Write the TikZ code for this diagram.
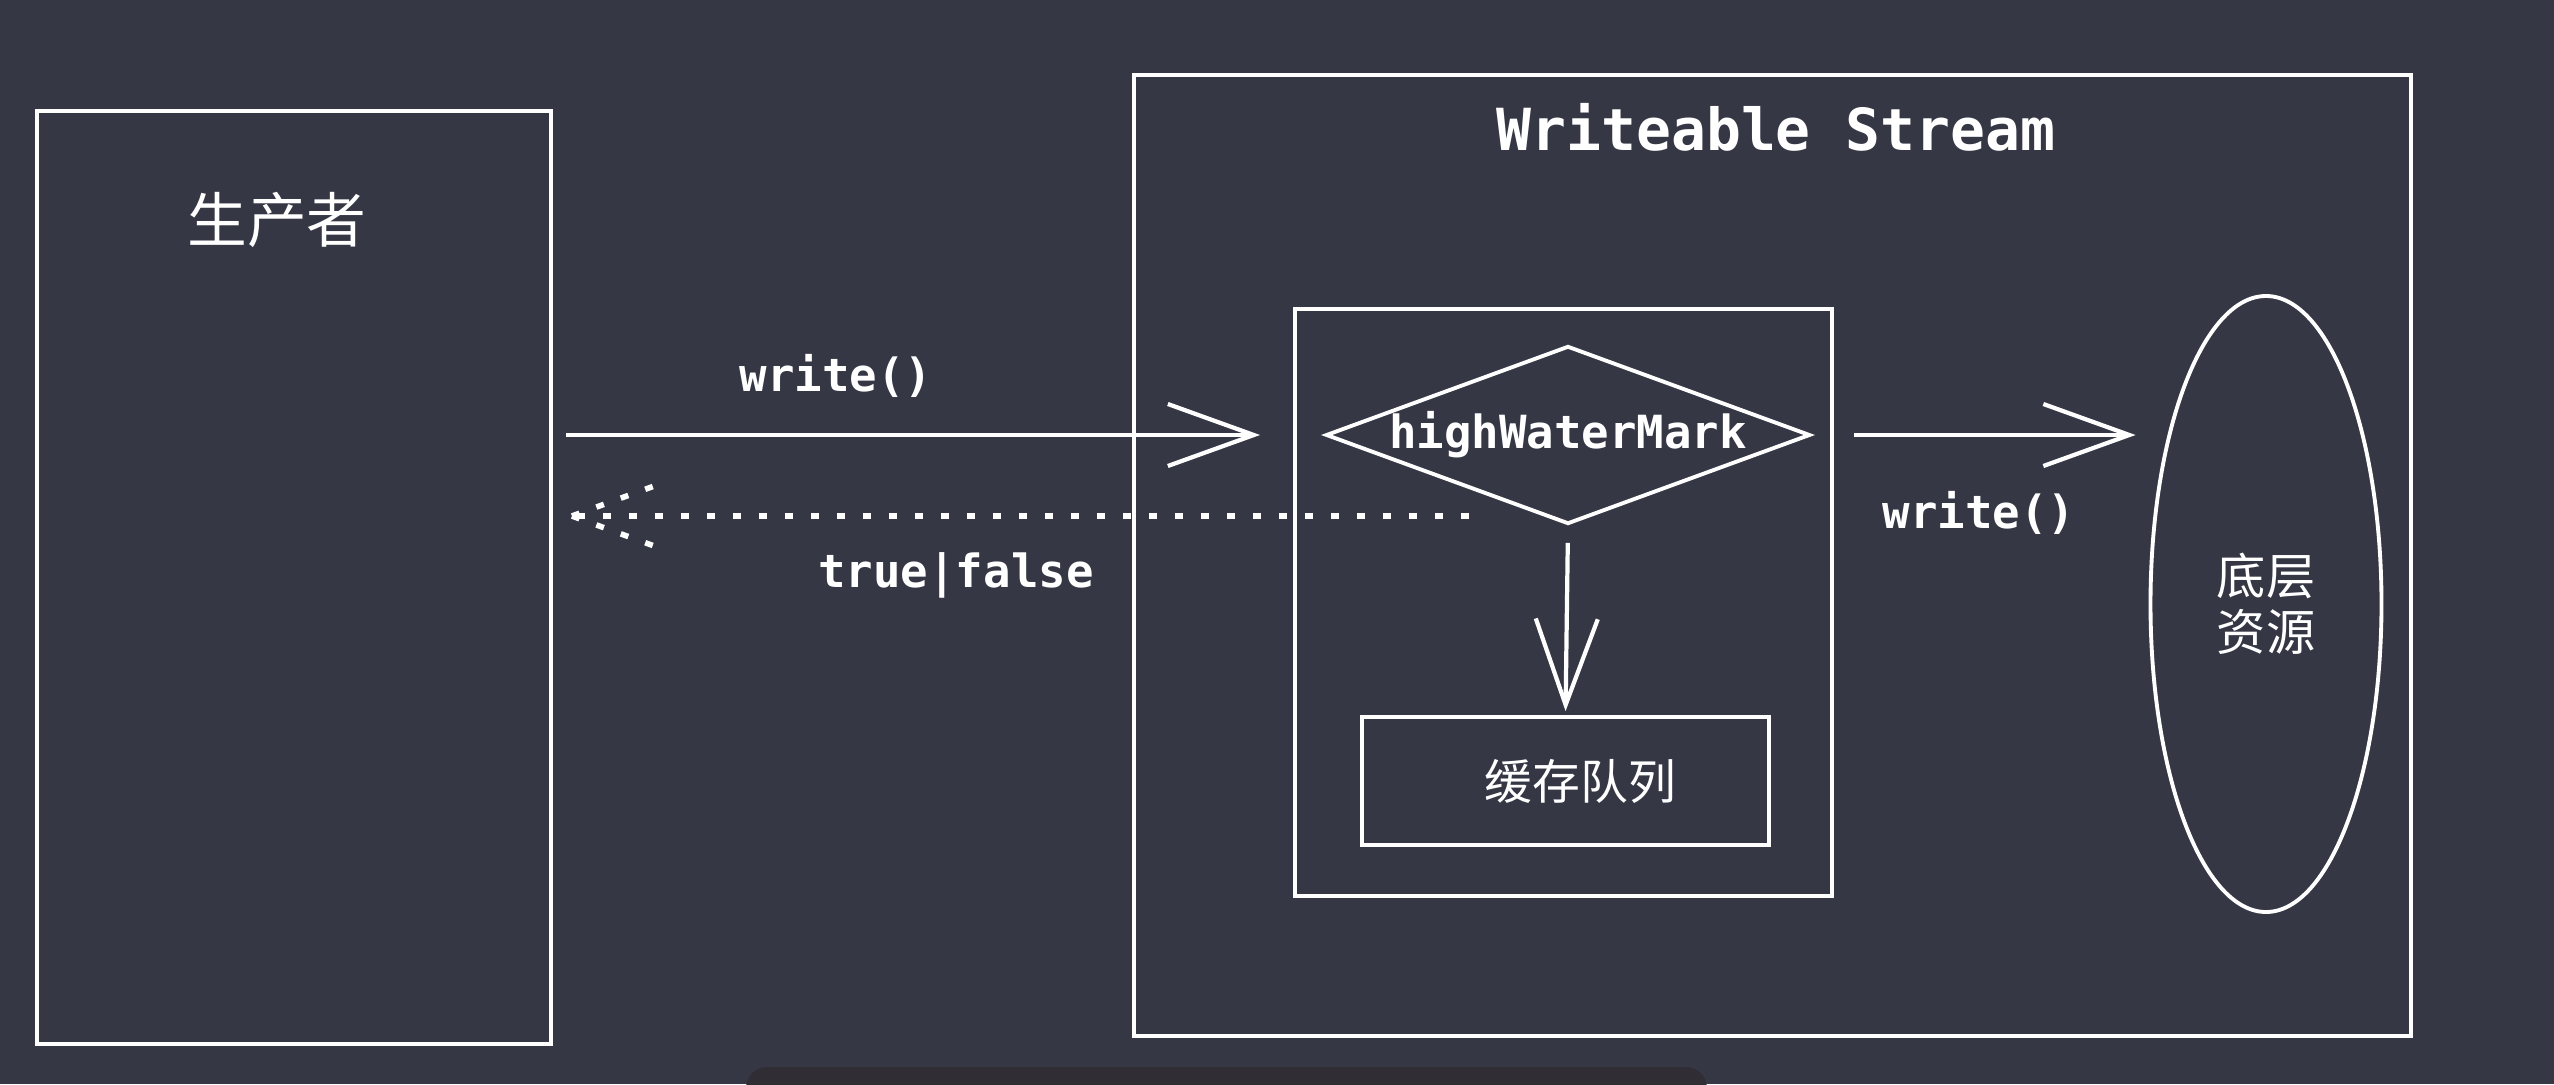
\documentclass[tikz,border=0pt]{standalone}
\usepackage{fontspec}
\setmonofont{DejaVu Sans Mono}
\newfontfamily\cjk{Noto Sans CJK SC}
\usetikzlibrary{arrows.meta,shapes.geometric}

\definecolor{canvas}{RGB}{53,55,68}
\definecolor{shadebar}{RGB}{49,45,53}

\begin{document}
\begin{tikzpicture}[
        sketch/.style={draw=white, line width=1.1pt},
        box/.style={sketch, rectangle, inner sep=0pt},
        code/.style={text=white, font=\ttfamily\bfseries\fontsize{13}{15}\selectfont},
        han/.style={text=white, font=\cjk\fontsize{#1}{16}\selectfont},
        flow/.style={white, line width=1.2pt, -{Straight Barb[length=8.6mm, width=6.2mm]}},
        dots/.style={white, line width=1.6pt, dash pattern=on 0.8mm off 1.8mm}
    ]
        % Canvas
        \useasboundingbox (0, 0) rectangle (25.54, 10.84);
        \fill[canvas] (0, 0) rectangle (25.54, 10.84);
        \fill[shadebar, rounded corners=6pt] (7.46, -0.3) rectangle (17.07, 0.17);

        % Producer
        \node[box, minimum width=5.14cm, minimum height=9.33cm] (producer) at (2.94, 5.065) {};
        \node[han=17] (producerText) at (2.77, 8.64) {生产者};

        % Writeable stream
        \node[box, minimum width=12.77cm, minimum height=9.61cm] (stream) at (17.725, 5.285) {};
        \node[text=white, font=\ttfamily\bfseries\fontsize{16.5}{18}\selectfont] (streamText) at (17.76, 9.57) {Writeable Stream};

        \node[box, minimum width=5.37cm, minimum height=5.87cm] (buffer) at (15.635, 4.815) {};
        \node[sketch, diamond, aspect=2.72, minimum width=4.74cm, minimum height=1.74cm, inner sep=0pt, code] (mark) at (15.68, 6.49) {highWaterMark};
        \node[box, minimum width=4.07cm, minimum height=1.28cm, han=13.6, text width=3.8cm, align=center] (queue) at (15.655, 3.03) {\hspace*{3mm}缓存队列};

        % Resource
        \node[sketch, ellipse, minimum width=2.31cm, minimum height=6.16cm, inner sep=0pt, han=14, align=center] (resource) at (22.66, 4.80) {底层\\资源};

        % Write calls
        \draw[flow, shorten <=1.3mm, shorten >=3.3mm] (producer.east |- mark) -- (buffer.west |- mark);
        \node[code] (writeIn) at (8.36, 7.08) {write()};

        \draw[flow, shorten <=2mm, shorten >=1.3mm] (buffer.east |- mark) -- (resource.west |- mark);
        \node[code] (writeOut) at (19.79, 5.71) {write()};

        \draw[flow, shorten <=1.7mm, shorten >=0.4mm] (mark.south) -- (queue.north);

        % Return value
        \coordinate (retStart) at (14.69, 5.68);
        \coordinate (retEnd) at ([xshift=1.9mm] producer.east |- retStart);
        \draw[dots] (retStart) -- (retEnd);
        \draw[dots] (retEnd) -- ++(0.85, 0.31);
        \draw[dots] (retEnd) -- ++(0.85, -0.31);
        \node[code] (retText) at (9.56, 5.09) {true|false};
\end{tikzpicture}
\end{document}
